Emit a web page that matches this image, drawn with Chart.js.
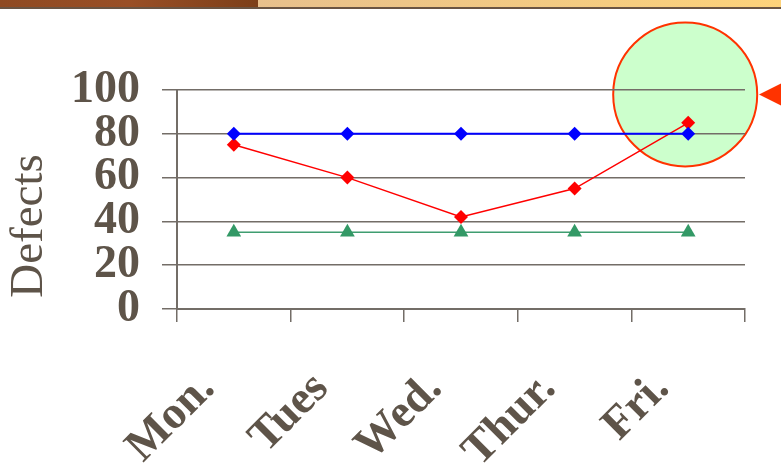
<!DOCTYPE html>
<html>
<head>
<meta charset="utf-8">
<script src="https://cdn.jsdelivr.net/npm/chart.js@4/dist/chart.umd.min.js"></script>
<style>
  html, body { margin: 0; padding: 0; background: #ffffff; }
  #wrap { width: 781px; height: 465px; }
</style>
</head>
<body>
<div id="wrap"><canvas id="c" width="781" height="465"></canvas></div>
<script>
// Weekly defect counts with upper and lower control limits
const days = ['Mon.', 'Tues', 'Wed.', 'Thur.', 'Fri.'];
const upperLimit = [80, 80, 80, 80, 80];
const defects = [75, 60, 42, 55, 85];
const lowerLimit = [35, 35, 35, 35, 35];
const yTickValues = [0, 20, 40, 60, 80, 100];

const textColor = '#5e5449';
const gridColor = '#736d67';

// Slide banner, highlight circle, pointer arrow and the rotated axis title
const decorations = {
  id: 'decorations',
  beforeDraw(chart) {
    const ctx = chart.ctx;
    ctx.save();
    // banner across the top
    let g = ctx.createLinearGradient(0, 0, 257, 0);
    g.addColorStop(0, '#8f4a22');
    g.addColorStop(0.5, '#9a4f26');
    g.addColorStop(1, '#7d3f19');
    ctx.fillStyle = g;
    ctx.fillRect(0, 0, 258, 7);
    g = ctx.createLinearGradient(258, 0, 781, 0);
    g.addColorStop(0, '#e8c08c');
    g.addColorStop(1, '#fdd27a');
    ctx.fillStyle = g;
    ctx.fillRect(258, 0, 523, 7);
    ctx.fillStyle = '#6a5443';
    ctx.fillRect(0, 7, 781, 2);

    // highlight around the Friday value
    const x = chart.scales.x.getPixelForValue(4);
    const y = chart.scales.y.getPixelForValue(98);
    ctx.beginPath();
    ctx.arc(x - 3, y, 72, 0, Math.PI * 2);
    ctx.fillStyle = '#ccffcc';
    ctx.fill();
    ctx.lineWidth = 2;
    ctx.strokeStyle = '#ff3300';
    ctx.stroke();

    // pointer arrow at the right edge
    ctx.beginPath();
    ctx.moveTo(759, y);
    ctx.lineTo(781, y - 11);
    ctx.lineTo(781, y + 11);
    ctx.closePath();
    ctx.fillStyle = '#ff3300';
    ctx.fill();

    // y axis title
    ctx.translate(30, 226);
    ctx.rotate(-Math.PI / 2);
    ctx.fillStyle = textColor;
    ctx.font = '47px "Liberation Serif", serif';
    ctx.textAlign = 'center';
    ctx.textBaseline = 'middle';
    ctx.fillText('Defects', 0, 0);
    ctx.restore();
  }
};

new Chart(document.getElementById('c'), {
  type: 'line',
  data: {
    labels: days,
    datasets: [
      {
        label: 'Upper limit',
        data: upperLimit,
        borderColor: '#0000ff',
        backgroundColor: '#0000ff',
        borderWidth: 2,
        pointStyle: 'rectRot',
        pointRadius: 7,
        pointBorderWidth: 0
      },
      {
        label: 'Defects',
        data: defects,
        borderColor: '#ff0000',
        backgroundColor: '#ff0000',
        borderWidth: 1.5,
        pointStyle: 'rectRot',
        pointRadius: 7,
        pointBorderWidth: 0
      },
      {
        label: 'Lower limit',
        data: lowerLimit,
        borderColor: '#3f9d70',
        backgroundColor: '#339966',
        borderWidth: 1.5,
        pointStyle: 'triangle',
        pointRadius: 8.5,
        pointBorderWidth: 0
      }
    ]
  },
  options: {
    responsive: false,
    animation: false,
    layout: { padding: { left: 0, right: 36, top: 90, bottom: 0 } },
    plugins: {
      legend: { display: false },
      tooltip: { enabled: false }
    },
    scales: {
      x: {
        offset: true,
        grid: {
          offset: true,
          drawOnChartArea: false,
          drawTicks: true,
          tickLength: 13,
          color: gridColor,
          lineWidth: 1.5
        },
        border: { color: gridColor, width: 2 },
        ticks: {
          autoSkip: false,
          color: textColor,
          font: { family: '"Liberation Serif", serif', size: 46, weight: 'bold' },
          minRotation: 45,
          maxRotation: 45,
          padding: 40,
          labelOffset: -26
        },
        afterFit(scale) { scale.height = 156; }
      },
      y: {
        min: 0,
        max: 100,
        afterBuildTicks(scale) { scale.ticks = yTickValues.map(v => ({ value: v })); },
        grid: {
          color: gridColor,
          lineWidth: 1.5,
          tickLength: 15
        },
        border: { color: gridColor, width: 2 },
        ticks: {
          autoSkip: false,
          color: textColor,
          font: { family: '"Liberation Serif", serif', size: 46, weight: 'bold' },
          padding: 22
        },
        afterFit(scale) { scale.width = 177; }
      }
    }
  },
  plugins: [decorations]
});
</script>
</body>
</html>
